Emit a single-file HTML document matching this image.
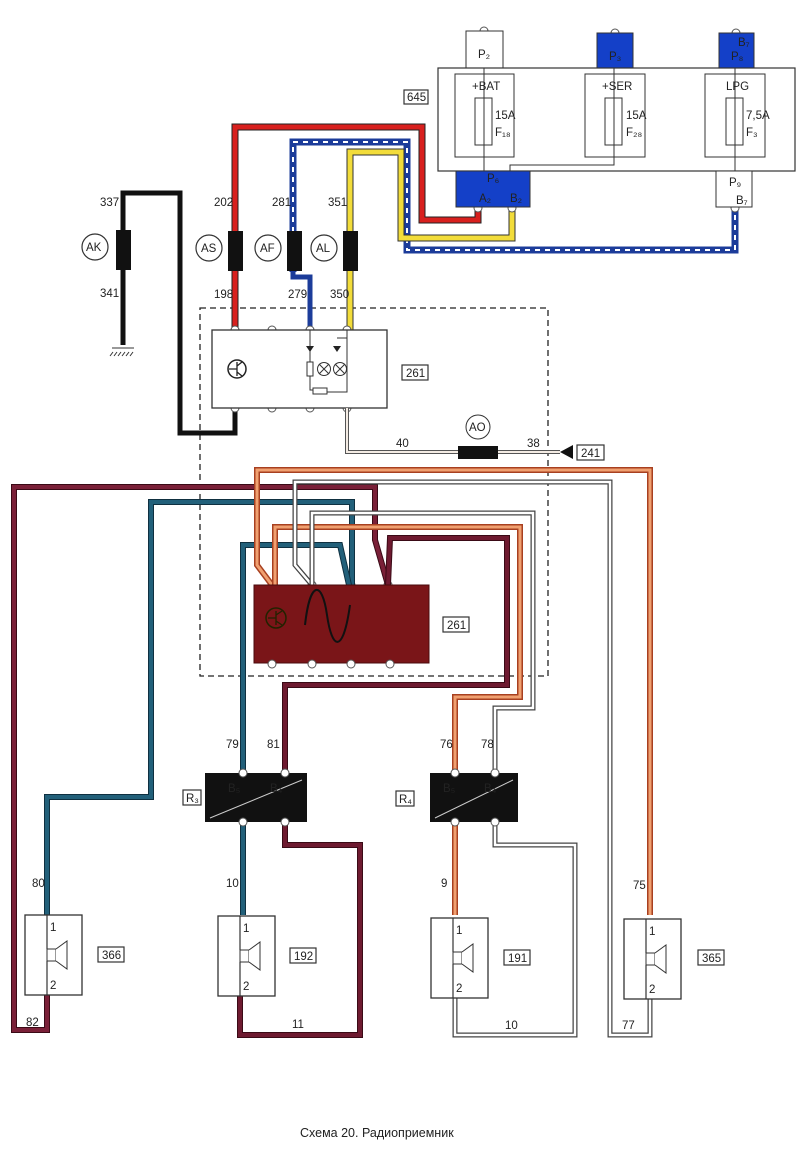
<!DOCTYPE html>
<html><head><meta charset="utf-8"><style>
html,body{margin:0;padding:0;background:#fff}
svg{display:block}
text{font-family:"Liberation Sans",sans-serif;font-size:11.5px;fill:#222}
.lb{fill:#fff;stroke:#333;stroke-width:1.2}
</style></head><body>
<svg width="800" height="1158" viewBox="0 0 800 1158" xmlns="http://www.w3.org/2000/svg">
<defs>
<g id="spk"><rect x="0" y="0" width="57" height="80" fill="#fff" stroke="#333" stroke-width="1.3"/>
<path d="M22 0V34M22 46V80" stroke="#333" fill="none" stroke-width="1.2"/>
<rect x="22" y="34" width="9" height="12" fill="#fff" stroke="#333"/>
<path d="M31 34L42 26V54L31 46" fill="#fff" stroke="#333"/>
<text x="25" y="16">1</text><text x="25" y="74">2</text></g>
</defs>

<rect x="200" y="308" width="348" height="368" fill="none" stroke="#222" stroke-width="1.3" stroke-dasharray="6,4"/>

<path d="M123 345V193H180V433H235V408" fill="none" stroke="#111" stroke-width="5"/>
<path d="M112 348H134M113 352l-3 4M117 352l-3 4M121 352l-3 4M125 352l-3 4M129 352l-3 4M133 352l-3 4" stroke="#333" stroke-width="1"/>

<path d="M235 330V127H422V220H478V207" fill="none" stroke="#222" stroke-width="7"/>
<path d="M235 330V127H422V220H478V207" fill="none" stroke="#d8201e" stroke-width="5"/>
<path d="M293 272V142H407V250H735V207" fill="none" stroke="#1c3c9a" stroke-width="7"/>
<path d="M293 272V142H407V250H735V207" fill="none" stroke="#fff" stroke-width="2" stroke-dasharray="5,5"/>
<path d="M293 268V277H310V330" fill="none" stroke="#1c3c9a" stroke-width="5"/>
<path d="M350 330V152H401V238H512V207" fill="none" stroke="#333" stroke-width="7"/>
<path d="M350 330V152H401V238H512V207" fill="none" stroke="#f2dc3a" stroke-width="5"/>

<rect x="116" y="230" width="15" height="40" fill="#111"/>
<rect x="228" y="231" width="15" height="40" fill="#111"/>
<rect x="287" y="231" width="15" height="40" fill="#111"/>
<rect x="343" y="231" width="15" height="40" fill="#111"/>
<g fill="#fff" stroke="#333" stroke-width="1.2">
<circle cx="95" cy="247" r="13"/><circle cx="209" cy="248" r="13"/><circle cx="268" cy="248" r="13"/><circle cx="324" cy="248" r="13"/>
</g>
<text x="86" y="251">AK</text><text x="201" y="252">AS</text><text x="260" y="252">AF</text><text x="316" y="252">AL</text>
<text x="100" y="206">337</text><text x="100" y="297">341</text>
<text x="214" y="206">202</text><text x="214" y="298">198</text>
<text x="272" y="206">281</text><text x="288" y="298">279</text>
<text x="328" y="206">351</text><text x="330" y="298">350</text>

<g fill="#fff" stroke="#555"><circle cx="484" cy="31" r="4"/><circle cx="615" cy="33" r="4"/><circle cx="736" cy="33" r="4"/>
<circle cx="478" cy="208" r="4"/><circle cx="512" cy="208" r="4"/><circle cx="735" cy="208" r="4"/>
<circle cx="235" cy="330" r="4"/><circle cx="272" cy="330" r="4"/><circle cx="310" cy="330" r="4"/><circle cx="347" cy="330" r="4"/>
<circle cx="235" cy="408" r="4"/><circle cx="272" cy="408" r="4"/><circle cx="310" cy="408" r="4"/><circle cx="347" cy="408" r="4"/>
<circle cx="272" cy="585" r="4"/><circle cx="312" cy="585" r="4"/><circle cx="351" cy="585" r="4"/><circle cx="388" cy="585" r="4"/></g>

<rect x="466" y="31" width="37" height="37" fill="#fff" stroke="#333"/>
<rect x="597" y="33" width="36" height="35" fill="#1440c8" stroke="#333"/>
<rect x="719" y="33" width="35" height="35" fill="#1440c8" stroke="#333"/>
<rect x="438" y="68" width="357" height="103" fill="#fff" stroke="#333" stroke-width="1.2"/>
<rect x="455" y="74" width="59" height="83" fill="#fff" stroke="#333"/>
<rect x="585" y="74" width="60" height="83" fill="#fff" stroke="#333"/>
<rect x="705" y="74" width="60" height="83" fill="#fff" stroke="#333"/>
<rect x="475" y="98" width="17" height="47" fill="#fff" stroke="#333"/>
<rect x="605" y="98" width="17" height="47" fill="#fff" stroke="#333"/>
<rect x="726" y="98" width="17" height="47" fill="#fff" stroke="#333"/>
<path d="M484 68V171M614 68V165H510V171M735 68V171" stroke="#333" fill="none"/>
<rect x="456" y="171" width="74" height="36" fill="#1440c8" stroke="#333"/>
<rect x="716" y="171" width="36" height="36" fill="#fff" stroke="#333"/>
<text x="478" y="58">P₂</text><text x="609" y="60" fill="#0a2a90">P₃</text><text x="731" y="60" fill="#0a2a90">P₈</text><text x="738" y="46" fill="#0a2a90">B₇</text>
<text x="472" y="90">+BAT</text><text x="602" y="90">+SER</text><text x="726" y="90">LPG</text>
<text x="495" y="119">15A</text><text x="495" y="136">F₁₈</text>
<text x="626" y="119">15A</text><text x="626" y="136">F₂₈</text>
<text x="746" y="119">7,5A</text><text x="746" y="136">F₃</text>
<text x="487" y="182" fill="#0a2a90">P₆</text><text x="479" y="202" fill="#0a2a90">A₂</text><text x="510" y="202" fill="#0a2a90">B₂</text>
<text x="729" y="186">P₉</text><text x="736" y="204">B₇</text>
<rect x="404" y="90" width="24" height="14" class="lb"/><text x="407" y="101">645</text>

<rect x="212" y="330" width="175" height="78" fill="#fff" stroke="#333" stroke-width="1.3"/>
<circle cx="237" cy="369" r="9" fill="none" stroke="#222" stroke-width="1.5"/>
<path d="M229 369H237M237 362V376M237 366l5 -4M237 372l5 4" stroke="#222" fill="none" stroke-width="1.3"/>
<path d="M310 330V390H315M347 330V338H337M347 338V392H320" stroke="#333" fill="none"/>
<path d="M306 346h8l-4 6z M333 346h8l-4 6z" fill="#222"/>
<rect x="307" y="362" width="6" height="14" fill="#fff" stroke="#333"/>
<circle cx="324" cy="369" r="6.5" fill="#fff" stroke="#333"/><circle cx="340" cy="369" r="6.5" fill="#fff" stroke="#333"/>
<path d="M319 364l10 10M329 364l-10 10M335 364l10 10M345 364l-10 10" stroke="#333"/>
<rect x="313" y="388" width="14" height="6" fill="#fff" stroke="#333"/>
<rect x="402" y="365" width="26" height="15" class="lb"/><text x="406" y="377">261</text>

<path d="M347 408V452H458M498 452H560" fill="none" stroke="#555" stroke-width="4"/>
<path d="M347 408V452H458M498 452H560" fill="none" stroke="#f4ece4" stroke-width="2"/>
<rect x="458" y="446" width="40" height="13" fill="#111"/>
<path d="M560 452L573 445V459Z" fill="#111"/>
<circle cx="478" cy="427" r="12" fill="#fff" stroke="#333"/><text x="469" y="431">AO</text>
<text x="396" y="447">40</text><text x="527" y="447">38</text>
<rect x="577" y="445" width="27" height="15" class="lb"/><text x="581" y="457">241</text>

<g fill="none" stroke-linejoin="miter">
<path d="M47 995V1030H14V487H375V540L388 585" stroke="#3a0a16" stroke-width="6"/>
<path d="M47 995V1030H14V487H375V540L388 585" stroke="#7a2038" stroke-width="4"/>
<path d="M47 915V797H151V502H352V585" stroke="#0f3040" stroke-width="6"/>
<path d="M47 915V797H151V502H352V585" stroke="#22607a" stroke-width="4"/>
<path d="M349 585L340 545H243V773M243 822V915" stroke="#0f3040" stroke-width="6"/>
<path d="M349 585L340 545H243V773M243 822V915" stroke="#22607a" stroke-width="4"/>
<path d="M388 585L390 538H507V685H285V773M285 822V845H360V1035H240V995" stroke="#3a0a16" stroke-width="6"/>
<path d="M388 585L390 538H507V685H285V773M285 822V845H360V1035H240V995" stroke="#6e1a30" stroke-width="4"/>
<path d="M272 585L257 565V470H650V915" stroke="#a84020" stroke-width="6"/>
<path d="M272 585L257 565V470H650V915" stroke="#f0a070" stroke-width="3"/>
<path d="M275 585V527H520V697H455V773M455 822V915" stroke="#a84020" stroke-width="6"/>
<path d="M275 585V527H520V697H455V773M455 822V915" stroke="#f0a070" stroke-width="3"/>
<path d="M312 585L295 565V482H610V1035H650V995" stroke="#444" stroke-width="5"/>
<path d="M312 585L295 565V482H610V1035H650V995" stroke="#fff" stroke-width="2.5"/>
<path d="M312 585V513H533V708H495V773M495 822V845H575V1035H455V995" stroke="#444" stroke-width="5"/>
<path d="M312 585V513H533V708H495V773M495 822V845H575V1035H455V995" stroke="#fff" stroke-width="2.5"/>
</g>

<rect x="254" y="585" width="175" height="78" fill="#7a1518" stroke="#4a0a0c"/>
<circle cx="276" cy="618" r="10" fill="none" stroke="#220" stroke-width="1.5"/>
<path d="M268 618H276M276 611V625M276 615l6 -4M276 621l6 4" stroke="#220" fill="none" stroke-width="1.3"/>
<path d="M305 625C310 580 322 580 327 615S343 655 350 605" stroke="#111" fill="none" stroke-width="2"/>
<g fill="#fff" stroke="#555"><circle cx="272" cy="664" r="4"/><circle cx="312" cy="664" r="4"/><circle cx="351" cy="664" r="4"/><circle cx="390" cy="664" r="4"/></g>
<rect x="443" y="617" width="26" height="15" class="lb"/><text x="447" y="629">261</text>

<rect x="205" y="773" width="102" height="49" fill="#111"/>
<rect x="430" y="773" width="88" height="49" fill="#111"/>
<path d="M210 818L302 780M435 818L513 780" stroke="#ccc" stroke-width="1"/>
<g fill="#fff" stroke="#555"><circle cx="243" cy="773" r="4"/><circle cx="285" cy="773" r="4"/><circle cx="243" cy="822" r="4"/><circle cx="285" cy="822" r="4"/>
<circle cx="455" cy="773" r="4"/><circle cx="495" cy="773" r="4"/><circle cx="455" cy="822" r="4"/><circle cx="495" cy="822" r="4"/></g>
<text x="228" y="792" fill="#ccc">B₅</text><text x="270" y="792" fill="#ccc">B₄</text>
<text x="443" y="792" fill="#ccc">B₅</text><text x="484" y="792" fill="#ccc">B₄</text>
<rect x="183" y="790" width="18" height="15" class="lb"/><text x="186" y="802">R₃</text>
<rect x="396" y="791" width="18" height="15" class="lb"/><text x="399" y="803">R₄</text>
<text x="226" y="748">79</text><text x="267" y="748">81</text>
<text x="440" y="748">76</text><text x="481" y="748">78</text>

<use href="#spk" x="25" y="915"/><use href="#spk" x="218" y="916"/><use href="#spk" x="431" y="918"/><use href="#spk" x="624" y="919"/>
<rect x="98" y="947" width="26" height="15" class="lb"/><text x="102" y="959">366</text>
<rect x="290" y="948" width="26" height="15" class="lb"/><text x="294" y="960">192</text>
<rect x="504" y="950" width="26" height="15" class="lb"/><text x="508" y="962">191</text>
<rect x="698" y="950" width="26" height="15" class="lb"/><text x="702" y="962">365</text>
<text x="32" y="887">80</text><text x="226" y="887">10</text><text x="441" y="887">9</text><text x="633" y="889">75</text>
<text x="26" y="1026">82</text><text x="292" y="1028">11</text><text x="505" y="1029">10</text><text x="622" y="1029">77</text>

<text x="300" y="1137" style="font-size:12.5px">Схема 20. Радиоприемник</text>
</svg>
</body></html>
